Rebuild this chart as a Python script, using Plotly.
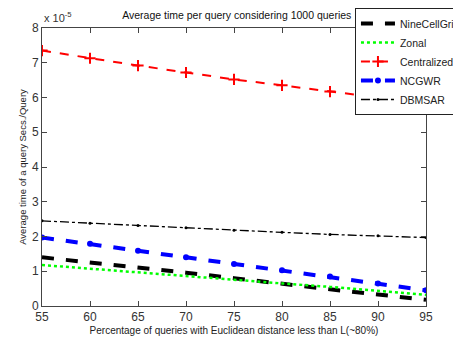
import plotly.graph_objects as go

# x: percentage of queries; y values in units of 1e-5 seconds/query
pct = [55, 60, 65, 70, 75, 80, 85, 90, 95]
nine_cell_grid = [1.40, 1.26, 1.11, 0.96, 0.80, 0.63, 0.48, 0.33, 0.18]
zonal = [1.18, 1.07, 0.96, 0.85, 0.75, 0.65, 0.55, 0.43, 0.32]
centralized = [7.35, 7.13, 6.92, 6.72, 6.52, 6.35, 6.17, 6.00, 5.88]
ncgwr = [1.97, 1.79, 1.59, 1.40, 1.21, 1.03, 0.85, 0.65, 0.45]
dbmsar = [2.45, 2.38, 2.32, 2.25, 2.18, 2.12, 2.06, 2.02, 1.97]
y_ticks = [0, 1, 2, 3, 4, 5, 6, 7, 8]
x_ticks = [55, 60, 65, 70, 75, 80, 85, 90, 95]

FONT = "Liberation Sans, Arial"

fig = go.Figure()
fig.add_trace(go.Scatter(x=pct, y=nine_cell_grid, name="NineCellGrid", mode="lines",
                         line=dict(color="black", width=4, dash="dash")))
fig.add_trace(go.Scatter(x=pct, y=zonal, name="Zonal", mode="lines",
                         line=dict(color="#00ff00", width=2.5, dash="dot")))
fig.add_trace(go.Scatter(x=pct, y=centralized, name="Centralized", mode="lines+markers",
                         line=dict(color="red", width=2, dash="dash"),
                         marker=dict(symbol="cross-thin", size=8, color="red",
                                     line=dict(color="red", width=2))))
fig.add_trace(go.Scatter(x=pct, y=ncgwr, name="NCGWR", mode="lines+markers",
                         line=dict(color="blue", width=4, dash="dash"),
                         marker=dict(symbol="circle", size=6, color="blue")))
fig.add_trace(go.Scatter(x=pct, y=dbmsar, name="DBMSAR", mode="lines+markers",
                         line=dict(color="black", width=1.3, dash="dashdot"),
                         marker=dict(symbol="circle", size=3, color="black")))

axis_common = dict(showline=True, linecolor="#444444", linewidth=1, mirror="ticks",
                   ticks="inside", ticklen=5, tickcolor="#444444", showgrid=False,
                   zeroline=False, tickfont=dict(family=FONT, size=12, color="#333333"))

fig.update_xaxes(range=[55, 95], tickvals=x_ticks,
                 title=dict(text="Percentage of queries with Euclidean distance less than L(~80%)",
                            font=dict(family=FONT, size=10, color="#222222"),
                            standoff=3),
                 **axis_common)
fig.update_yaxes(range=[0, 8], tickvals=y_ticks,
                 title=dict(text="Average time of a query Secs./Query",
                            font=dict(family=FONT, size=9.5, color="#222222"),
                            standoff=3),
                 **axis_common)

fig.add_annotation(text="x 10<sup>-5</sup>", xref="paper", yref="paper", x=0, y=1.0,
                   xanchor="left", yanchor="bottom", showarrow=False, yshift=2,
                   font=dict(family=FONT, size=11, color="#333333"))

# page body has an 8px default margin, so the figure is sized to fill the rest of the window
fig.update_layout(
    width=453, height=330,
    margin=dict(l=34, r=35, t=20, b=32, autoexpand=False),
    paper_bgcolor="white", plot_bgcolor="white",
    title=dict(text="Average time per query considering 1000 queries",
               x=0.505, xanchor="center", y=0.979, yanchor="middle",
               font=dict(family=FONT, size=10.5, color="#111111")),
    legend=dict(x=0.815, y=1.072, xanchor="left", yanchor="top",
                bgcolor="white", bordercolor="#222222", borderwidth=1,
                font=dict(family=FONT, size=10.5, color="#222222"),
                tracegroupgap=0, itemwidth=34),
    showlegend=True,
)

fig.write_html("out.html")
